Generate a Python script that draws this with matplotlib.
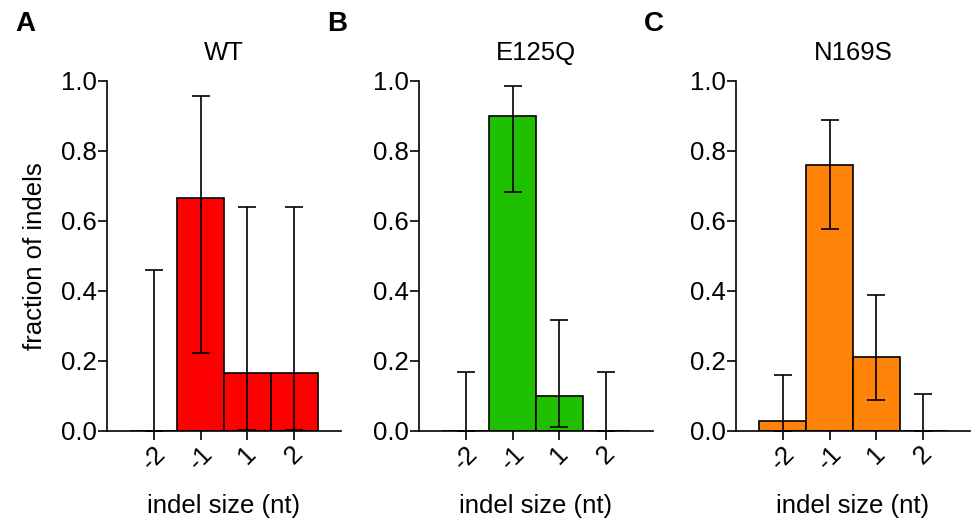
import numpy as np
import matplotlib.pyplot as plt

plt.rcParams['font.family'] = ['Liberation Sans', 'DejaVu Sans']

# ---------- Data ----------
sizes = ["-2", "-1", "1", "2"]

wt_frac = [0.0, 0.667, 0.167, 0.167]
wt_low = [0.0, 0.223, 0.004, 0.004]
wt_high = [0.459, 0.957, 0.641, 0.641]

e125q_frac = [0.0, 0.90, 0.10, 0.0]
e125q_low = [0.0, 0.683, 0.012, 0.0]
e125q_high = [0.170, 0.987, 0.318, 0.170]

n169s_frac = [0.03, 0.76, 0.212, 0.0]
n169s_low = [0.0, 0.577, 0.090, 0.0]
n169s_high = [0.159, 0.890, 0.389, 0.106]

panels = [
    ("A", "WT", wt_frac, wt_low, wt_high, "#ff0000"),
    ("B", "E125Q", e125q_frac, e125q_low, e125q_high, "#1ec000"),
    ("C", "N169S", n169s_frac, n169s_low, n169s_high, "#ff8308"),
]

# ---------- Figure ----------
fig = plt.figure(figsize=(9.71, 5.23), dpi=100)

lefts = [107, 419, 736]
W, H = 971, 523
fs = 18.5

for i, (letter, title, frac, low, high, color) in enumerate(panels):

    ax = fig.add_axes([lefts[i] / W, (H - 431) / H, 234 / W, 350 / H])

    x = np.arange(len(sizes))
    frac = np.array(frac)
    yerr = [frac - np.array(low), np.array(high) - frac]

    ax.bar(x, frac, width=1.0, color=color, edgecolor="black", linewidth=1.2, zorder=2)
    ax.errorbar(x, frac, yerr=yerr, fmt="none", ecolor="black",
                elinewidth=1.2, capsize=6.5, capthick=1.2, zorder=3)

    ax.set_xlim(-1, 4)
    ax.set_ylim(0, 1.0)
    ax.set_yticks([0.0, 0.2, 0.4, 0.6, 0.8, 1.0])
    ax.set_yticklabels(["0.0", "0.2", "0.4", "0.6", "0.8", "1.0"])
    ax.set_xticks(x)
    ax.set_xticklabels(sizes, rotation=45, ha="center")

    for s in ["top", "right"]:
        ax.spines[s].set_visible(False)
    for s in ["left", "bottom"]:
        ax.spines[s].set_linewidth(1.2)
    ax.spines["left"].set_zorder(4)
    ax.spines["bottom"].set_zorder(4)

    ax.tick_params(axis="both", length=6.5, width=1.2, labelsize=fs, pad=1, direction="out")

    ax.set_title(title, fontsize=fs, pad=15)
    ax.set_xlabel("indel size (nt)", fontsize=fs, labelpad=14)
    if i == 0:
        ax.set_ylabel("fraction of indels", fontsize=fs, labelpad=10)

    fig.text((lefts[i] - 92) / W, 1 - 24 / H, letter, fontsize=20, fontweight="bold",
             va="center", ha="left")

fig.savefig("out.png", dpi=100)
